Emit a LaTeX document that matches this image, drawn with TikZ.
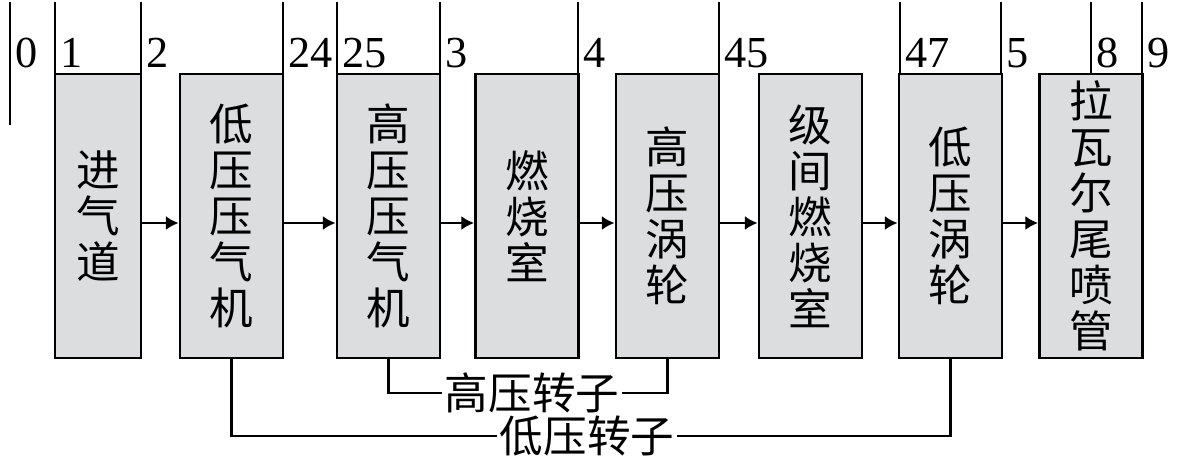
\documentclass[tikz,border=0pt]{standalone}
\usepackage{fontspec}
\setmainfont{Liberation Serif}
\newfontfamily\cjk{Noto Sans CJK SC}
\usetikzlibrary{arrows.meta, positioning}
\definecolor{boxgray}{RGB}{220,221,223}
\tikzset{
  blk/.style={draw, line width=2pt, fill=boxgray, minimum width=2.575cm, minimum height=7.1cm,
    inner sep=0pt, align=center, font=\cjk\fontsize{31}{32.7}\selectfont},
  flow/.style={line width=2pt, -{Latex[length=9pt,width=10pt]}},
  stn/.style={anchor=base west, inner sep=0pt, font=\fontsize{31.5}{32}\selectfont},
  rotor/.style={inner sep=1pt, font=\cjk\fontsize{31}{32}\selectfont}
}

\begin{document}
\begin{tikzpicture}[x=0.025cm, y=-0.025cm, line width=2pt]
\useasboundingbox (0,0) rectangle (1181,469);

% station lines
\foreach \x in {10,55,141,283,337,440,578,719,900,1001,1142}
  \draw (\x,2) -- (\x,125);
\draw (1091,2) -- (1091,74);

\foreach \x/\s in {10/0,55/1,141/2,283/24,337/25,440/3,578/4,719/45,900/47,1001/5,1091/8,1142/9}
  \node[stn] (s\s) at (\x+4,67) {\s};

% components
\node[blk, minimum width=2.15cm] (inlet) at (98,216) {进\\气\\道};
\node[blk] (lpc) at (231.5,216) {低\\压\\压\\气\\机};
\node[blk] (hpc) at (388.5,216) {高\\压\\压\\气\\机};
\node[blk] (burner) at (527,216) {燃\\烧\\室};
\node[blk] (hpt) at (667.5,216) {高\\压\\涡\\轮};
\node[blk] (ab) at (810.5,216) {级\\间\\燃\\烧\\室};
\node[blk] (lpt) at (950.5,216) {低\\压\\涡\\轮};
\node[blk] (nozzle) at (1091,216) {拉\\瓦\\尔\\尾\\喷\\管};

\foreach \a/\b in {inlet/lpc, lpc/hpc, hpc/burner, burner/hpt, hpt/ab, ab/lpt, lpt/nozzle}
  \draw[flow] ([yshift=-0.175cm]\a.east) -- ([yshift=-0.175cm]\b.west);

% rotors
\node[rotor] (hpr) at (532,393) {高压转子};
\node[rotor] (lpr) at (587,436) {低压转子};
\draw (hpc.south) |- (hpr.west);
\draw (hpr.east) -| (hpt.south);
\draw (lpc.south) |- (lpr.west);
\draw (lpr.east) -| (lpt.south);
\end{tikzpicture}
\end{document}
